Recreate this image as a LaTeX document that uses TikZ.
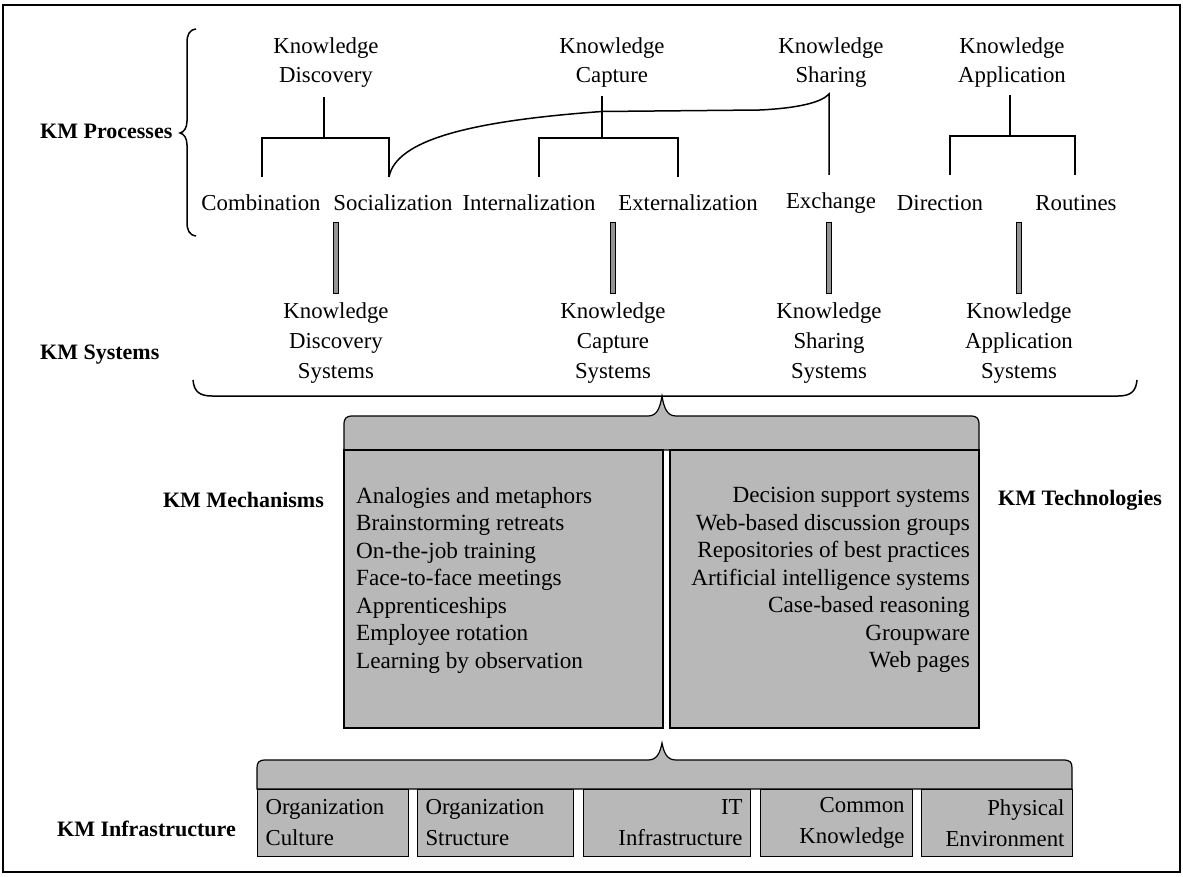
\documentclass[tikz,border=0pt]{standalone}
\usepackage{fontspec}
\setmainfont{Liberation Serif}
\definecolor{kmgray}{gray}{0.72}
\begin{document}
\begin{tikzpicture}[x=1pt,y=-1pt,
  lbl/.style={inner sep=0pt,align=center,font=\fontsize{22.8}{29}\selectfont},
  sys/.style={inner sep=0pt,align=center,font=\fontsize{22.8}{30}\selectfont},
  head/.style={inner sep=0pt,font=\fontsize{22}{26}\selectfont\bfseries},
  items/.style={inner sep=0pt,font=\fontsize{23.2}{27.5}\selectfont},
  cell/.style={draw=black,fill=kmgray,line width=1.1pt,minimum height=67pt,inner xsep=8pt,inner ysep=0pt,anchor=north west,font=\fontsize{22.8}{31}\selectfont},
  conn/.style={line width=1.5pt},
  panel/.style={draw=black,fill=kmgray,line width=1.2pt},
  bar/.style={draw=black,fill=kmgray!80!black,line width=0.8pt,inner sep=0pt,minimum width=5pt,minimum height=71pt}
]
\useasboundingbox (0,0) rectangle (1183,877);
% outer frame
\draw[line width=1.5pt] (3,5) rectangle (1180,872);

% ---------- row labels ----------
\node[head,anchor=west] (kmp) at (40,131) {KM Processes};
\node[head,anchor=west] (kms) at (40,355) {KM Systems};
\node[head,anchor=east] (kmm) at (324,500) {KM Mechanisms};
\node[head,anchor=west] (kmt) at (998,500) {KM Technologies};
\node[head,anchor=east] (kmi) at (236,829) {KM Infrastructure};

% brace grouping the processes
\draw[conn] (196,29) .. controls (189,30) and (187,35) .. (187,43) -- (187,121)
  .. controls (187,128) and (184,132) .. (180,133)
  .. controls (184,134) and (187,138) .. (187,145) -- (187,222)
  .. controls (187,230) and (189,235) .. (196,236);

% ---------- knowledge processes ----------
\node[lbl] (kd) at (326,63) {Knowledge\\Discovery};
\node[lbl] (kc) at (612,63) {Knowledge\\Capture};
\node[lbl] (ks) at (831,63) {Knowledge\\Sharing};
\node[lbl] (ka) at (1012,63) {Knowledge\\Application};

\node[lbl] (comb) at (261,203) {Combination};
\node[lbl] (soc)  at (393,203) {Socialization};
\node[lbl] (intl) at (529,203) {Internalization};
\node[lbl] (extl) at (688,203) {Externalization};
\node[lbl] (exch) at (831,203) {Exchange};
\node[lbl] (dir)  at (940,203) {Direction};
\node[lbl] (rout) at (1076,203) {Routines};

% bracket end points
\coordinate (kd-s) at (324,97);  \coordinate (kd-j) at (324,138);
\coordinate (comb-n) at (262,177); \coordinate (soc-n) at (389,177);
\coordinate (kc-s) at (602,96);  \coordinate (kc-j) at (602,138);
\coordinate (intl-n) at (539,177); \coordinate (extl-n) at (678,177);
\coordinate (kc-x) at (602,111.5); \coordinate (ks-c) at (760,110);
\coordinate (ks-s) at (829,94);  \coordinate (exch-n) at (829,175);
\coordinate (ka-s) at (1010,95); \coordinate (ka-j) at (1010,136);
\coordinate (dir-n) at (950,175); \coordinate (rout-n) at (1075,175);

\draw[conn] (kd-s) -- (kd-j);
\draw[conn] (comb-n) |- (kd-j) -| (soc-n);
\draw[conn] (kc-s) -- (kc-j);
\draw[conn] (intl-n) |- (kc-j) -| (extl-n);
\draw[conn] (soc-n) .. controls (396,140) and (470,121) .. (kc-x) -- (ks-c)
  .. controls (800,108) and (822,102) .. (ks-s) -- (exch-n);
\draw[conn] (ka-s) -- (ka-j);
\draw[conn] (dir-n) |- (ka-j) -| (rout-n);

% ---------- links down to the systems ----------
\node[bar] (b1) at (336,258) {};
\node[bar] (b2) at (613,258) {};
\node[bar] (b3) at (829,258) {};
\node[bar] (b4) at (1019,258) {};

% ---------- knowledge systems ----------
\node[sys] (kds) at (336,343) {Knowledge\\Discovery\\Systems};
\node[sys] (kcs) at (613,343) {Knowledge\\Capture\\Systems};
\node[sys] (kss) at (829,343) {Knowledge\\Sharing\\Systems};
\node[sys] (kas) at (1019,343) {Knowledge\\Application\\Systems};

\draw[conn] (193,380) .. controls (194,392) and (200,396) .. (212,396) -- (1118,396)
  .. controls (1130,396) and (1136,392) .. (1137,380);

% ---------- mechanisms and technologies ----------
\draw[panel] (344,450) -- (344,425) .. controls (344,418) and (346,416) .. (353,416)
  -- (648,416) .. controls (657,416) and (660,408) .. (662,396)
  .. controls (664,408) and (667,416) .. (676,416) -- (970,416)
  .. controls (977,416) and (979,418) .. (979,425) -- (979,450) -- cycle;
\draw[panel] (344,450) rectangle (663,728);
\draw[panel] (670,450) rectangle (979,728);

\node[items,anchor=north west,align=left] (mech) at (356,487)
  {Analogies and metaphors\\Brainstorming retreats\\On-the-job training\\Face-to-face meetings\\Apprenticeships\\Employee rotation\\Learning by observation};
\node[items,anchor=north east,align=right] (tech) at (970,487)
  {Decision support systems\\Web-based discussion groups\\Repositories of best practices\\Artificial intelligence systems\\Case-based reasoning\\Groupware\\Web pages};

% ---------- infrastructure ----------
\draw[panel] (257,789) -- (257,768) .. controls (257,762) and (259,760) .. (266,760)
  -- (648,760) .. controls (657,760) and (660,753) .. (662,743)
  .. controls (664,753) and (667,760) .. (676,760) -- (1063,760)
  .. controls (1070,760) and (1072,762) .. (1072,768) -- (1072,789) -- cycle;

\node[cell,text width=135pt,align=left]  (ic1) at (257,789) {Organization\\Culture};
\node[cell,text width=140pt,align=left]  (ic2) at (417,789) {Organization\\Structure};
\node[cell,text width=151pt,align=right] (ic3) at (583,789) {IT\\Infrastructure};
\node[cell,text width=136pt,align=right] (ic4) at (760,789) {Common\\Knowledge};
\node[cell,text width=135pt,align=right] (ic5) at (921,789) {Physical\\Environment};
\end{tikzpicture}
\end{document}
